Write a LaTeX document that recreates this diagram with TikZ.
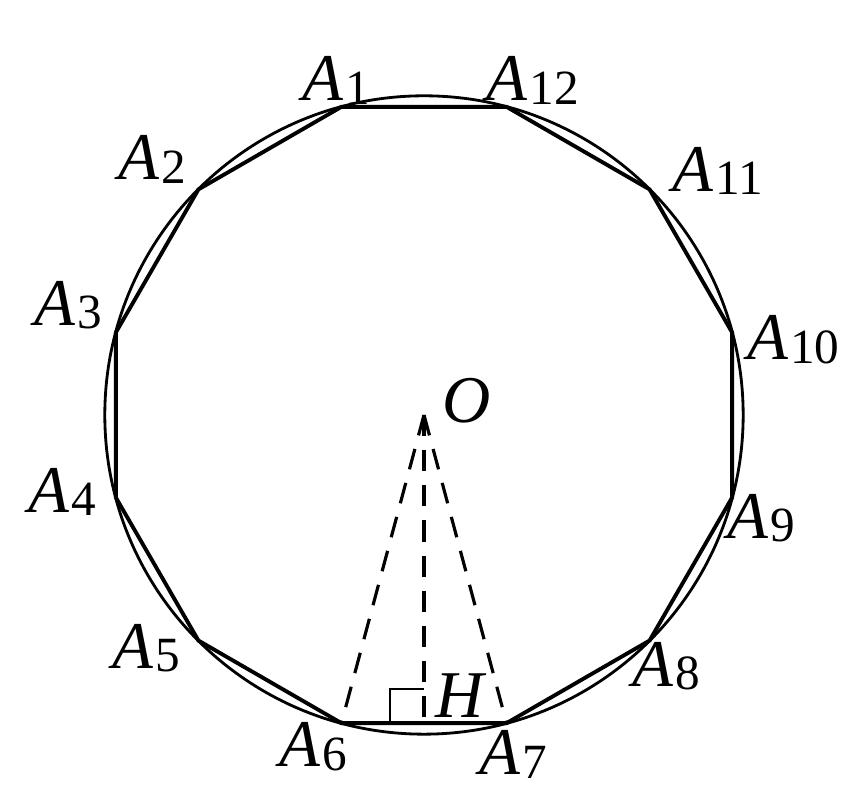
\documentclass[tikz,border=0pt]{standalone}
\usepackage{fontspec}
\setmainfont{Liberation Serif}
\usetikzlibrary{calc,positioning}
\tikzset{
poly_edge/.style={line width=1.1pt, line join=round},
rim/.style={line width=0.8pt},
helper/.style={line width=0.9pt, dash pattern=on 6pt off 4pt},
right_mark/.style={line width=0.7pt},
point_label/.style={inner sep=0pt, font=\fontsize{19}{21}\selectfont\itshape}
}
\newcommand{\vname}[1]{\textit{A}\kern0.6pt\raisebox{-1pt}{\fontsize{14}{15}\selectfont\upshape #1}}

\begin{document}
\begin{tikzpicture}[x=0.01cm,y=0.01cm]
    \useasboundingbox (-424,-371) rectangle (418,415);
    \coordinate (O) at (0,0);
    % vertices of the twelve-gon, A1 at 105 degrees
    \foreach \i in {1,...,12}
        \coordinate (A\i) at ({75+30*\i}:319);
    \coordinate (H) at ($(A6)!0.5!(A7)$);
    \draw[rim] (O) circle[radius=3.19cm];
    \draw[poly_edge] (A1) \foreach \i in {2,...,12} {-- (A\i)} -- cycle;
    \draw[helper] (O) -- (A6);
    \draw[helper] (O) -- (H);
    \draw[helper] (O) -- (A7);
    \draw[right_mark] ($(H)+(-34,0)$) -- ++(0,34) -- ++(34,0);
    % labels
    \foreach \i/\ang/\rad in {1/104.7/346, 2/136.8/373, 3/162.8/372, 4/192/370,
        5/220/363, 6/251.5/350, 7/284.8/351, 8/314/349, 9/343/353,
        10/11.5/377, 11/39.7/382, 12/72/352}
        \node[point_label] (L\i) at (\ang:\rad) {\vname{\i}};
    \node[point_label, right=18 of O, yshift=4] (LO) {O};
    \node[point_label] (LH) at ($(H)+(36,27)$) {H};
\end{tikzpicture}
\end{document}
